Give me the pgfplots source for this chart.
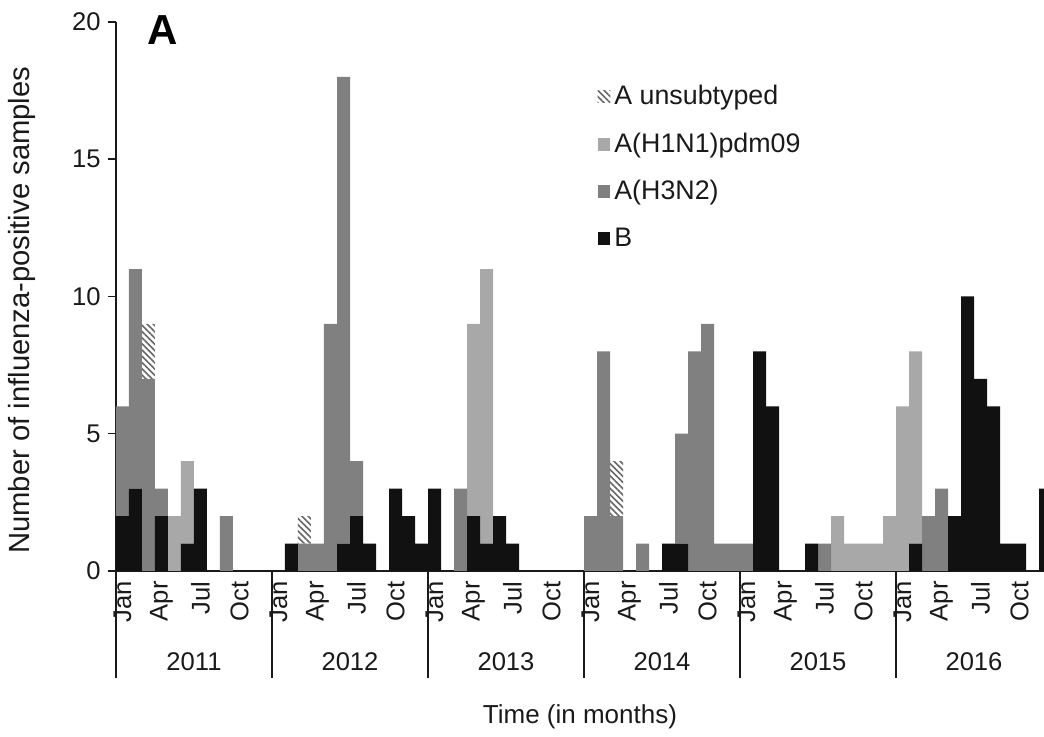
\documentclass[border=0pt]{standalone}
\usepackage{pgfplots}
\pgfplotsset{compat=1.18}
\usepackage{pgfplotstable}
\usetikzlibrary{patterns.meta}
\usepackage{fontspec}
\setmainfont{Liberation Sans}
\definecolor{cB}{HTML}{111111}
\definecolor{cH3}{HTML}{808080}
\definecolor{cH1}{HTML}{A8A8A8}
\definecolor{txt}{HTML}{1A1A1A}
\pgfplotstableread{
x B H3 H1 U
0 2 4 0 0
1 3 8 0 0
2 0 7 0 2
3 2 1 0 0
4 0 0 2 0
5 1 0 3 0
6 3 0 0 0
7 0 0 0 0
8 0 2 0 0
9 0 0 0 0
10 0 0 0 0
11 0 0 0 0
12 0 0 0 0
13 1 0 0 0
14 0 1 0 1
15 0 1 0 0
16 0 9 0 0
17 1 17 0 0
18 2 2 0 0
19 1 0 0 0
20 0 0 0 0
21 3 0 0 0
22 2 0 0 0
23 1 0 0 0
24 3 0 0 0
25 0 0 0 0
26 0 3 0 0
27 2 0 7 0
28 1 0 10 0
29 2 0 0 0
30 1 0 0 0
31 0 0 0 0
32 0 0 0 0
33 0 0 0 0
34 0 0 0 0
35 0 0 0 0
36 0 2 0 0
37 0 8 0 0
38 0 2 0 2
39 0 0 0 0
40 0 1 0 0
41 0 0 0 0
42 1 0 0 0
43 1 4 0 0
44 0 8 0 0
45 0 9 0 0
46 0 1 0 0
47 0 1 0 0
48 0 1 0 0
49 8 0 0 0
50 6 0 0 0
51 0 0 0 0
52 0 0 0 0
53 1 0 0 0
54 0 1 0 0
55 0 0 2 0
56 0 0 1 0
57 0 0 1 0
58 0 0 1 0
59 0 0 2 0
60 0 0 6 0
61 1 0 7 0
62 0 2 0 0
63 0 3 0 0
64 2 0 0 0
65 10 0 0 0
66 7 0 0 0
67 6 0 0 0
68 1 0 0 0
69 1 0 0 0
70 0 0 0 0
71 3 0 0 0
}\datatable
\begin{document}
\begin{tikzpicture}
\useasboundingbox (-58pt,-83pt) rectangle (464pt,285.5pt);
\begin{axis}[
  at={(0,0)}, anchor=south west,
  scale only axis, width=464pt, height=274.5pt,
  ybar stacked, bar width=1,
  xmin=-0.5, xmax=70.885, ymin=0, ymax=20,
  clip=false,
  axis x line*=bottom, axis y line*=left,
  axis line style={line width=0.75pt, color=txt},
  ytick={0,5,10,15,20},
  xtick={0,3,6,9,12,15,18,21,24,27,30,33,36,39,42,45,48,51,54,57,60,63,66,69},
  xticklabels={Jan,Apr,Jul,Oct,Jan,Apr,Jul,Oct,Jan,Apr,Jul,Oct,Jan,Apr,Jul,Oct,Jan,Apr,Jul,Oct,Jan,Apr,Jul,Oct},
  xtick style={draw=none},
  ytick style={line width=0.75pt, color=txt},
  tick align=outside, major tick length=4pt,
  xticklabel style={rotate=90, anchor=east, inner sep=1pt},
  yticklabel style={inner sep=3.5pt},
  tick label style={font=\fontsize{12.8}{15}\selectfont, text=txt},
  /pgf/number format/assume math mode=true,
  xlabel={Time (in months)},
  xlabel style={at={(axis description cs:0.5,0)}, anchor=center, yshift=-73pt, font=\fontsize{13}{15}\selectfont, text=txt},
  ylabel={Number of influenza-positive samples},
  ylabel style={at={(axis description cs:-0.101,0.475)}, anchor=center, font=\fontsize{14.6}{16}\selectfont, text=txt},
  legend style={at={(axis cs:36.05,18.0)}, anchor=north west, draw=none, fill=none,
    font=\fontsize{13.4}{15}\selectfont, text=txt, row sep=8.6pt},
  legend cell align=left,
  reverse legend,
  legend image code/.code={\path[#1,draw=none] (0pt,-3.2pt) rectangle (6.4pt,3.2pt);},
]
\addplot[fill=cB, draw=none] table[x=x,y=B]{\datatable};
\addlegendentry{B}
\addplot[fill=cH3, draw=none] table[x=x,y=H3]{\datatable};
\addlegendentry{A(H3N2)}
\addplot[fill=cH1, draw=none] table[x=x,y=H1]{\datatable};
\addlegendentry{A(H1N1)pdm09}
\addplot[fill=white, draw=none, pattern={Lines[angle=-45, distance=2.2pt, line width=0.8pt]}, pattern color=gray!80!black] table[x=x,y=U]{\datatable};
\addlegendentry{A unsubtyped}
\draw[line width=0.75pt, color=txt] (axis cs:-0.5,0) -- ++(0pt,-53.5pt);
\draw[line width=0.75pt, color=txt] (axis cs:11.5,0) -- ++(0pt,-53.5pt);
\draw[line width=0.75pt, color=txt] (axis cs:23.5,0) -- ++(0pt,-53.5pt);
\draw[line width=0.75pt, color=txt] (axis cs:35.5,0) -- ++(0pt,-53.5pt);
\draw[line width=0.75pt, color=txt] (axis cs:47.5,0) -- ++(0pt,-53.5pt);
\draw[line width=0.75pt, color=txt] (axis cs:59.5,0) -- ++(0pt,-53.5pt);
\node[font=\fontsize{12.8}{15}\selectfont, text=txt] at ([yshift=-45.5pt]axis cs:5.5,0) {2011};
\node[font=\fontsize{12.8}{15}\selectfont, text=txt] at ([yshift=-45.5pt]axis cs:17.5,0) {2012};
\node[font=\fontsize{12.8}{15}\selectfont, text=txt] at ([yshift=-45.5pt]axis cs:29.5,0) {2013};
\node[font=\fontsize{12.8}{15}\selectfont, text=txt] at ([yshift=-45.5pt]axis cs:41.5,0) {2014};
\node[font=\fontsize{12.8}{15}\selectfont, text=txt] at ([yshift=-45.5pt]axis cs:53.5,0) {2015};
\node[font=\fontsize{12.8}{15}\selectfont, text=txt] at ([yshift=-45.5pt]axis cs:65.5,0) {2016};
\node[font=\fontsize{21}{24}\selectfont\bfseries, text=black] at (axis cs:3.1,19.7) {A};
\end{axis}
\end{tikzpicture}
\end{document}
